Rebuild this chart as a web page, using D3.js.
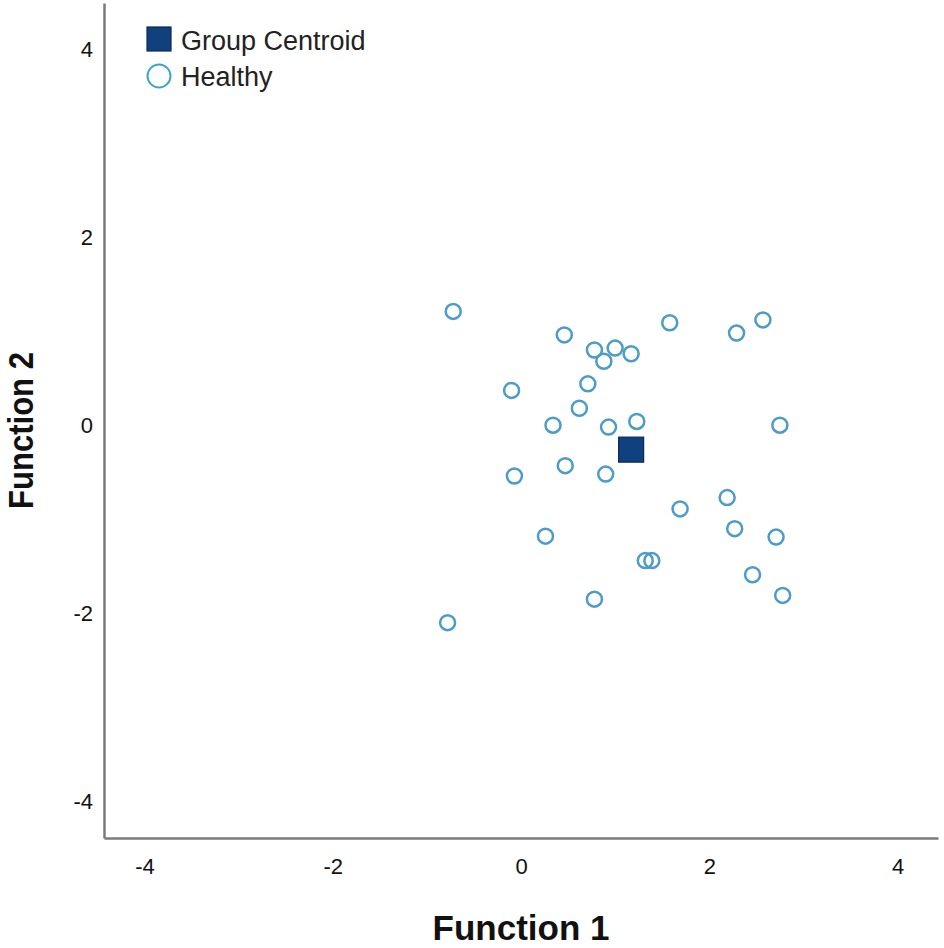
<!DOCTYPE html>
<html>
<head>
<meta charset="utf-8">
<script src="https://cdn.jsdelivr.net/npm/d3@7/dist/d3.min.js"></script>
<style>
  html, body { margin: 0; padding: 0; background: #fff; }
  svg { display: block; font-family: "Liberation Sans", Arial, sans-serif; }
</style>
</head>
<body>
<svg id="chart" width="944" height="948"></svg>
<script>
// Data
const function1 = [-0.72, 0.46, 1.58, 2.57, 2.29, 0.78, 1.00, 0.88, 1.17, 0.71,
                   -0.10, 0.62, 0.34, 0.93, 1.23, 2.75, 0.47, -0.07, 0.90, 2.19,
                   1.69, 2.27, 2.71, 0.26, 1.32, 1.39, 2.46, 2.78, 0.78, -0.78];
const function2 = [1.21, 0.96, 1.09, 1.12, 0.98, 0.80, 0.82, 0.68, 0.76, 0.44,
                   0.37, 0.18, 0.00, -0.02, 0.04, 0.00, -0.43, -0.54, -0.52, -0.77,
                   -0.89, -1.10, -1.19, -1.18, -1.44, -1.44, -1.59, -1.81, -1.85, -2.10];
const centroid = [1.17, -0.26];
const xTicks = [-4, -2, 0, 2, 4];
const yTicks = [-4, -2, 0, 2, 4];
const legendLabels = ["Group Centroid", "Healthy"];
const xTitle = "Function 1";
const yTitle = "Function 2";

const svg = d3.select("#chart");
const x = d3.scaleLinear().domain([-4.43, 4.43]).range([104, 938]);
const y = d3.scaleLinear().domain([-4.39, 4.49]).range([838, 3]);

const axisColor = "#7a7a7a";
const pointColor = "#4d9cc8";
const fmt = d => String(d);

// X axis
const xAxis = svg.append("g")
  .attr("transform", `translate(0,${y.range()[0]})`)
  .call(d3.axisBottom(x).tickValues(xTicks).tickSize(0).tickPadding(20).tickFormat(fmt));
xAxis.select(".domain").attr("stroke", axisColor).attr("stroke-width", 2.5);
xAxis.selectAll("text").attr("font-size", 22).attr("fill", "#111").attr("font-family", "Liberation Sans, Arial, sans-serif");

// Y axis
const yAxis = svg.append("g")
  .attr("transform", `translate(${x.range()[0]},0)`)
  .call(d3.axisLeft(y).tickValues(yTicks).tickSize(0).tickPadding(11).tickFormat(fmt));
yAxis.select(".domain").attr("stroke", axisColor).attr("stroke-width", 2.5);
yAxis.selectAll("text").attr("font-size", 22).attr("fill", "#111").attr("font-family", "Liberation Sans, Arial, sans-serif");

// Axis titles
svg.append("text")
  .attr("x", x(0)).attr("y", 940)
  .attr("text-anchor", "middle")
  .attr("font-size", 35).attr("font-weight", "bold").attr("fill", "#111")
  .text(xTitle);

svg.append("text")
  .attr("transform", `translate(33,430.5) rotate(-90)`)
  .attr("text-anchor", "middle")
  .attr("font-size", 35).attr("font-weight", "bold").attr("fill", "#111")
  .attr("textLength", 157).attr("lengthAdjust", "spacingAndGlyphs")
  .text(yTitle);

// Points
const pts = function1.map((v, i) => ({ f1: v, f2: function2[i] }));
svg.append("g").selectAll("circle")
  .data(pts).join("circle")
  .attr("cx", d => x(d.f1))
  .attr("cy", d => y(d.f2))
  .attr("r", 7.5)
  .attr("fill", "none")
  .attr("stroke", pointColor)
  .attr("stroke-width", 2.5);

// Centroid
const sq = 25;
svg.append("rect")
  .attr("x", x(centroid[0]) - sq / 2)
  .attr("y", y(centroid[1]) - sq / 2)
  .attr("width", sq).attr("height", sq)
  .attr("fill", "#10407e")
  .attr("stroke", "#0a2a55").attr("stroke-width", 1.2);

// Legend
const lg = svg.append("g");
lg.append("rect")
  .attr("x", 147).attr("y", 27).attr("width", 24).attr("height", 24)
  .attr("fill", "#10407e").attr("stroke", "#0a2a55").attr("stroke-width", 1.2);
lg.append("circle")
  .attr("cx", 159).attr("cy", 76).attr("r", 11.5)
  .attr("fill", "none").attr("stroke", "#3ea5c9").attr("stroke-width", 2);
lg.selectAll("text.leg")
  .data(legendLabels).join("text")
  .attr("class", "leg")
  .attr("x", 181)
  .attr("y", (d, i) => 50 + i * 36)
  .attr("font-size", 27).attr("fill", "#222")
  .text(d => d);
</script>
</body>
</html>
